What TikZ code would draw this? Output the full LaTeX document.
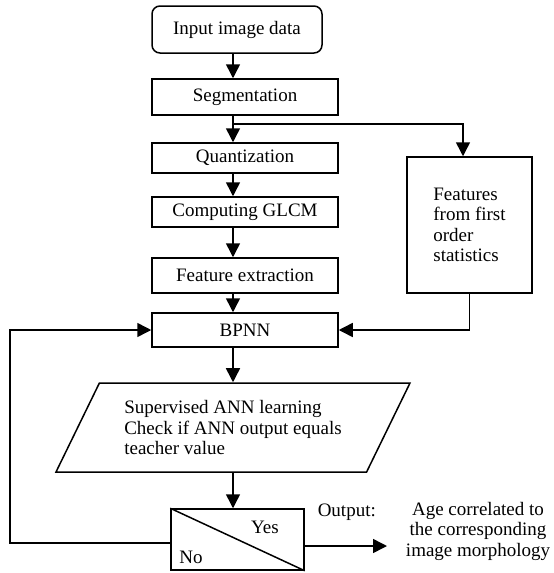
\documentclass[tikz,border=0pt]{standalone}
\usepackage{fontspec}
\setmainfont{Liberation Serif}
\usetikzlibrary{arrows.meta, positioning, shapes.geometric}

\begin{document}
\begin{tikzpicture}[
  x=1pt, y=-1pt,
  line width=1.5pt,
  font=\fontsize{19}{20.5}\selectfont,
  box/.style={draw, minimum width=186pt, inner sep=0pt, align=center},
  arrow/.style={-{Triangle[length=14pt, width=14pt]}},
  label/.style={inner sep=0pt, align=center}
]
\useasboundingbox (0,0) rectangle (554,573);

%% -- Nodes ------------------------------------------------------
\node[box, rounded corners=8pt, minimum width=170pt, minimum height=47pt]
  (input) at (237,29.5) {Input image data};
\node[box, minimum height=36pt] (seg)   at (245,97)    {Segmentation};
\node[box, minimum height=30pt] (quant) at (245,158)   {Quantization};
\node[box, minimum height=30pt] (glcm)  at (245,212)   {Computing GLCM};
\node[box, minimum height=35pt] (fext)  at (245,275.5) {Feature extraction};
\node[box, minimum height=34pt] (bpnn)  at (245,330)   {BPNN};

\node[box, minimum width=125pt, minimum height=136pt, align=left]
  (stats) at (469.5,225) {Features\\from first\\order\\statistics};

\node[draw, trapezium, trapezium left angle=51.4, trapezium right angle=128.6,
  trapezium stretches body, minimum width=354pt, minimum height=89pt,
  inner sep=0pt, align=left]
  (check) at (233,427.5) {Supervised ANN learning\\Check if ANN output equals\\teacher value};

\node[box, minimum width=133pt, minimum height=61pt] (dec) at (237.5,539.5) {};
\node[label] (yes) at (265,527) {Yes};
\node[label] (no)  at (191,557) {No};

\node[label, anchor=base west] (outlbl) at (317,516) {Output:};
\node[label] (age) at (478,531) {Age correlated to\\the corresponding\\image morphology};

%% -- Helper coordinates -----------------------------------------
\coordinate (spine)  at (233,0);
\coordinate (fork)   at (233,124);
\coordinate (loop)   at (10,0);
\coordinate (outend) at (387,0);

%% -- Main flow --------------------------------------------------
\draw[arrow] (input.south -| spine) -- (seg.north -| spine);
\draw[arrow] (seg.south -| spine)   -- (quant.north -| spine);
\draw[arrow] (quant.south -| spine) -- (glcm.north -| spine);
\draw[arrow] (glcm.south -| spine)  -- (fext.north -| spine);
\draw[arrow] (fext.south -| spine)  -- (bpnn.north -| spine);
\draw[arrow] (bpnn.south -| spine)  -- (check.north -| spine);
\draw[arrow] (check.south -| spine) -- (dec.north -| spine);

%% -- First order statistics branch ------------------------------
\draw[arrow] (fork) -| ([xshift=-6.5pt]stats.north);
\draw[arrow] (stats.south) |- (bpnn.east);

%% -- Decision ---------------------------------------------------
\draw (dec.north west) -- (dec.south east);
\draw[arrow] ([yshift=-3.5pt]dec.west) -- ([yshift=-3.5pt]dec.west -| loop) |- (bpnn.west);
\draw[arrow] ([yshift=-6.5pt]dec.east) -- ([yshift=-6.5pt]dec.east -| outend);

\end{tikzpicture}
\end{document}
